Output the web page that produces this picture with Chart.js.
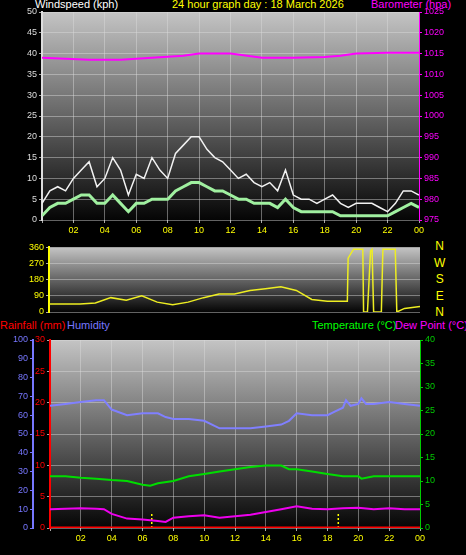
<!DOCTYPE html>
<html><head><meta charset="utf-8">
<script src="https://cdn.jsdelivr.net/npm/chart.js@4/dist/chart.umd.min.js"></script>
<style>
body{margin:0;background:#000;width:466px;height:555px;overflow:hidden;position:relative;font-family:"Liberation Sans",Arial,sans-serif}
canvas{position:absolute;left:0}
.t{position:absolute;font-size:11px;white-space:nowrap}
</style></head><body>
<div class="t" style="left:35px;top:-2px;color:#fff">Windspeed (kph)</div>
<div class="t" style="left:172px;top:-2px;color:#ff0">24 hour graph day : 18 March 2026</div>
<div class="t" style="left:371px;top:-2px;color:#f0f">Barometer (hpa)</div>
<div class="t" style="left:434px;top:238px;color:#ff0;font-size:12px;line-height:16.5px;text-align:center">N<br>W<br>S<br>E<br>N</div>
<div class="t" style="left:0px;top:319px;color:#f00">Rainfall (mm)</div>
<div class="t" style="left:67px;top:319px;color:#77f">Humidity</div>
<div class="t" style="left:312px;top:319px;color:#0f0">Temperature (°C)</div>
<div class="t" style="left:395px;top:319px;color:#f0f">Dew Point (°C)</div>
<canvas id="c1" width="466" height="240" style="top:0"></canvas>
<canvas id="c2" width="466" height="80" style="top:240px"></canvas>
<canvas id="c3" width="466" height="225" style="top:330px"></canvas>
<script>
// half-hour steps 0..24
var halfHours = [];
for (var i = 0; i <= 48; i++) halfHours.push(i / 2);
var windGust = [4,7,8,7,10,12,14,8,10,15,12,6,11,10,15,12,10,16,18,20,20,17,15,14,12,10,11,9,8,9,7,12,6,5,5,4,5,6,4,3,4,4,4,3,2,4,7,7,6];
var windAvg = [1,3,4,4,5,6,6,4,4,6,4,2,4,4,5,5,5,7,8,9,9,8,7,7,6,5,5,4,4,4,3,5,3,2,2,2,2,2,1,1,1,1,1,1,1,2,3,4,3];
var baroHours = [0,3,5,7,9,10,12,14,16,18,19,20,22,24];
var baro = [1014,1013.5,1013.5,1014,1014.5,1015,1015,1014,1014,1014.2,1014.5,1015,1015.2,1015.2];
var dirHours = [0,1,2,3,4,5,6,7,8,9,10,11,12,13,14,15,16,17,18,19,19.3,19.35,19.7,20.3,20.35,20.6,20.8,20.9,21.0,21.5,21.6,22.4,22.5,23,24];
var dirDeg = [45,45,45,50,80,65,90,55,40,55,80,100,100,120,130,140,120,70,60,60,60,300,350,350,0,0,340,350,0,0,350,350,0,20,30];
var humHours = [0,1,2,3,3.5,4,5,6,7,7.5,8,9,10,11,12,13,14,15,15.5,16,17,18,18.5,19,19.2,19.5,20,20.2,20.5,21,22,23,24];
var humidity = [65,66,67,68,68,63,60,61,61,59,58,58,57,53,53,53,54,55,57,61,60,60,62,64,68,65,66,69,66,66,67,66,65];
var tempHours = [0,1,2,3,4,5,6,6.5,7,8,9,10,11,12,13,14,15,15.5,16,17,18,19,20,20.2,21,22,23,24];
var temperature = [11,11,10.7,10.5,10.2,10,9.2,9,9.5,10,11,11.5,12,12.5,13,13.3,13.3,12.5,12.5,12,11.5,11,11,10.5,11,11,11,11];
var dewHours = [0,2,3,3.5,4,5,6,7,7.5,8,9,10,11,12,13,14,15,16,17,18,19,20,21,22,23,24];
var dewPoint = [4,4.2,4.1,4,3,2,1.8,1.5,1.3,2.2,2.5,2.7,2.2,2.5,2.8,3.4,4,4.6,4.1,4,4.2,4.3,4,4.2,4,4];
var rainHours = [0,24];
var rainfall = [0,0];
var sunEvents = [6.6,18.7];

function pts(xs, ys){ return xs.map(function(x,i){ return {x:x, y:ys[i]}; }); }
var bg = {id:'bg', beforeDraw:function(ch){
  var a = ch.chartArea, c = ch.ctx;
  var g = c.createLinearGradient(0,a.top,0,a.bottom);
  g.addColorStop(0,'#c4c4c4'); g.addColorStop(1,'#050505');
  c.save(); c.fillStyle = g; c.fillRect(a.left,a.top,a.right-a.left,a.bottom-a.top); c.restore();
}};
function fixW(w){ return function(s){ s.width = w; }; }
function fixH(h){ return function(s){ s.height = h; }; }
var grid = {color:'rgba(220,220,220,0.45)', borderDash:[1,2], tickColor:'#aaa', tickLength:3};
function xAxis(show, h){
  return {type:'linear', min:0, max:24, display:show, afterFit:fixH(h),
    ticks:{stepSize:2, color:'#ff0', font:{size:9}, padding:2,
      callback:function(v){ if(v===0) return ''; var h=v%24; return (h<10?'0':'')+h; }},
    grid:grid, border:{display:false}};
}
function yAxis(pos, min, max, step, color, w, extra){
  return {type:'linear', position:pos, min:min, max:max, afterFit:fixW(w),
    ticks:{stepSize:step, color:color, font:{size:9}, padding:2, callback:function(v){ return String(v); }},
    grid:pos==='left' && !extra ? grid : {display:true, drawOnChartArea:false, color:color, tickLength:3},
    border:{display:true, color:color, width:pos==='left'?2:1}};
}
function line(data, color, axis, w){
  return {data:data, borderColor:color, borderWidth:w||1.5, pointRadius:0, yAxisID:axis||'y', tension:0};
}
var base = {responsive:false, animation:false, plugins:{legend:{display:false}, tooltip:{enabled:false}}};

new Chart(document.getElementById('c1'), {
  type:'line', plugins:[bg],
  data:{datasets:[
    line(pts(halfHours, windGust), '#f2f2f2', 'y', 1.5),
    line(pts(halfHours, windAvg), '#a0f0a0', 'y', 3),
    line(pts(halfHours, windAvg), '#22dd22', 'y', 1),
    line(pts(baroHours, baro), '#ff00ff', 'y1', 2)
  ]},
  options:Object.assign({}, base, {layout:{padding:{top:12}}, scales:{
    x:xAxis(true, 20),
    y:yAxis('left', 0, 50, 5, '#ddd', 42),
    y1:yAxis('right', 975, 1025, 5, '#f0f', 47)
  }})
});

new Chart(document.getElementById('c2'), {
  type:'line', plugins:[bg],
  data:{datasets:[ line(pts(dirHours, dirDeg), '#eeee22', 'y', 1.5) ]},
  options:Object.assign({}, base, {layout:{padding:{top:5, bottom:8, right:46}}, scales:{
    x:xAxis(false, 0),
    y:yAxis('left', 0, 360, 90, '#ff0', 49)
  }})
});

var sunSets = sunEvents.map(function(h){
  return {data:[{x:h,y:0},{x:h,y:3.2}], borderColor:'#ff0', borderWidth:1.5, borderDash:[2,2], pointRadius:0, yAxisID:'yt'};
});
new Chart(document.getElementById('c3'), {
  type:'line', plugins:[bg],
  data:{datasets:[
    line(pts(humHours, humidity), '#8080ff', 'yh', 2),
    line(pts(tempHours, temperature), '#00dd00', 'yt', 2),
    line(pts(dewHours, dewPoint), '#ee00ee', 'yt', 2),
    line(pts(rainHours, rainfall), '#ff0000', 'yr', 3)
  ].concat(sunSets)},
  options:Object.assign({}, base, {layout:{padding:{top:10}}, scales:{
    x:xAxis(true, 27),
    yr:yAxis('left', 0, 30, 5, '#f00', 17, false),
    yh:yAxis('left', 0, 100, 10, '#77f', 33, true),
    yt:yAxis('right', 0, 40, 5, '#0c0', 46)
  }})
});
</script>
</body></html>
